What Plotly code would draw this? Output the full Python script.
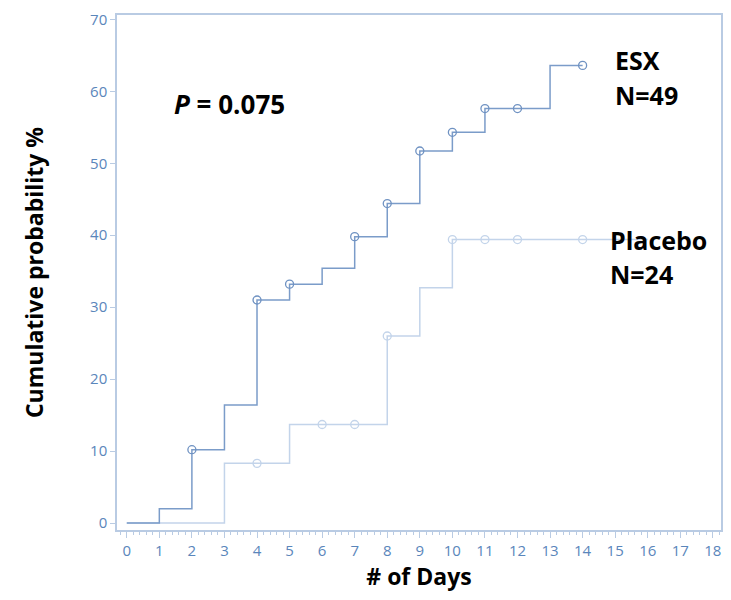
import plotly.graph_objects as go

# Data
days = list(range(0, 15))
esx_pct = [0, 2.0, 10.2, 16.4, 31.0, 33.2, 35.4, 39.8, 44.4, 51.7, 54.3, 57.6, 57.6, 63.6, 63.6]
esx_marker_days = [2, 4, 5, 7, 8, 9, 10, 11, 12, 14]

placebo_days = list(range(0, 15)) + [16]
placebo_pct = [0, 0, 0, 8.3, 8.3, 13.7, 13.7, 13.7, 26.0, 32.7, 39.4, 39.4, 39.4, 39.4, 39.4, 39.4]
placebo_marker_days = [4, 6, 7, 8, 10, 11, 12, 14]

x_ticks = list(range(0, 19))
y_ticks = list(range(0, 71, 10))

esx_color = "#7b9cc9"
placebo_color = "#c3d4ea"
axis_color = "#b9cbe3"
tick_font_color = "#5a86bb"

fig = go.Figure()

fig.add_trace(go.Scatter(x=placebo_days, y=placebo_pct, mode="lines", line=dict(shape="hv", color=placebo_color, width=1.5),
                         showlegend=False, hoverinfo="skip"))
fig.add_trace(go.Scatter(x=placebo_marker_days, y=[placebo_pct[d] for d in placebo_marker_days], mode="markers",
                         marker=dict(symbol="circle-open", size=8, color=placebo_color, line=dict(width=1.3)),
                         showlegend=False))
fig.add_trace(go.Scatter(x=days, y=esx_pct, mode="lines", line=dict(shape="hv", color=esx_color, width=1.5),
                         showlegend=False, hoverinfo="skip"))
fig.add_trace(go.Scatter(x=esx_marker_days, y=[esx_pct[d] for d in esx_marker_days], mode="markers",
                         marker=dict(symbol="circle-open", size=8, color="#6f92c2", line=dict(width=1.3)),
                         showlegend=False))

title_font = dict(family="Open Sans", size=23, color="black")
label_font = dict(family="Open Sans", size=25, color="black")

# The page body adds an 8px margin on every side; the figure is sized so the page does not overflow.
fig.update_layout(
    width=715, height=584,
    margin=dict(l=109, r=2, t=7, b=62),
    plot_bgcolor="white", paper_bgcolor="white",
    xaxis=dict(range=[-0.3, 18.25], tickvals=x_ticks, ticks="outside", ticklen=6, tickcolor=axis_color,
               showgrid=False, zeroline=False, showline=True, linecolor=axis_color, linewidth=1.5, mirror=True,
               automargin=False, ticklabeloverflow="allow",
               tickfont=dict(family="Open Sans", size=15, color=tick_font_color),
               minor=dict(dtick=0.2, ticks="outside", ticklen=3, tickcolor=axis_color),
               title=dict(text="<b># of Days</b>", font=title_font, standoff=14)),
    yaxis=dict(range=[-0.96, 70.6], tickvals=y_ticks, ticks="outside", ticklen=5, tickcolor=axis_color,
               showgrid=False, zeroline=False, showline=True, linecolor=axis_color, linewidth=1.5, mirror=True,
               automargin=False, ticklabeloverflow="allow",
               tickfont=dict(family="Open Sans", size=15, color=tick_font_color),
               title=dict(text="<b>Cumulative probability %</b>", font=title_font, standoff=40)),
    annotations=[
        dict(x=1.40, y=58.2, xref="x", yref="y", text="<b><i>P</i> = 0.075</b>", showarrow=False,
             font=dict(family="Open Sans", size=26, color="black"), xanchor="left", yanchor="middle"),
        dict(x=14.93, y=64.3, xref="x", yref="y", text="<b>ESX</b>", showarrow=False,
             font=label_font, xanchor="left", yanchor="middle"),
        dict(x=14.93, y=59.5, xref="x", yref="y", text="<b>N=49</b>", showarrow=False,
             font=label_font, xanchor="left", yanchor="middle"),
        dict(x=14.77, y=39.4, xref="x", yref="y", text="<b>Placebo</b>", showarrow=False,
             font=label_font, xanchor="left", yanchor="middle"),
        dict(x=14.77, y=34.6, xref="x", yref="y", text="<b>N=24</b>", showarrow=False,
             font=label_font, xanchor="left", yanchor="middle"),
    ],
)

fig.write_html("out.html")
